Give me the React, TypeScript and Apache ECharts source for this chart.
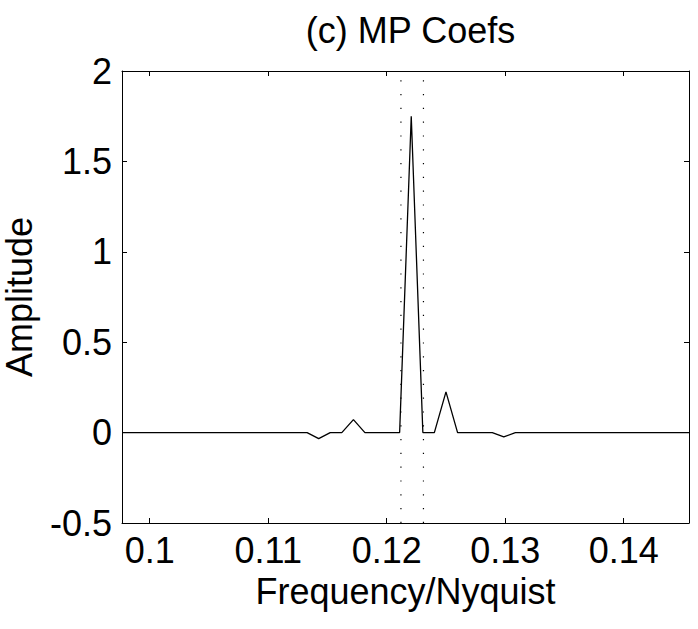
import React, { useEffect, useRef } from "react";
import * as echarts from "echarts";

const title = "(c) MP Coefs";
const xName = "Frequency/Nyquist";
const yName = "Amplitude";

// vertices of the coefficient trace (frequency, amplitude)
const freqs = [
  0.09766, 0.11328, 0.11426, 0.11523, 0.11621, 0.11719, 0.11816, 0.12109,
  0.12207, 0.12305, 0.12402, 0.125, 0.12598, 0.12891, 0.12988, 0.13086, 0.14551,
];
const amps = [
  0, 0, -0.033, 0, 0, 0.072, 0, 0, 1.75, 0, 0, 0.225, 0, 0, -0.024, 0, 0,
];
// dotted marker lines
const markerFreqs = [0.1212, 0.1231];
const xMin = 0.09766;
const xMax = 0.14551;
const yMin = -0.5;
const yMax = 2;

const FONT = "'Liberation Sans', Arial, Helvetica, sans-serif";
const FS = 36;

export default function App() {
  const ref = useRef<HTMLDivElement>(null);
  useEffect(() => {
    if (!ref.current) return;
    const chart = echarts.init(ref.current, undefined, { renderer: "svg" });
    const axisLine = { show: true, onZero: false, lineStyle: { color: "#000", width: 1 } };
    const fmtX = (v: number) => {
      const r = Math.round(v * 100) / 100;
      if (Math.abs(r - v) > 1e-6) return "";
      return String(r);
    };
    const lineData = freqs.map((f, i) => [f, amps[i]]);
    const markerSeries = markerFreqs.map((f) => ({
      type: "line",
      data: [
        [f, yMin],
        [f, yMax],
      ],
      symbol: "none",
      silent: true,
      lineStyle: { color: "#000", width: 1.2, type: [1.2, 12.6] },
      z: 1,
    }));
    chart.setOption({
      animation: false,
      title: {
        text: title,
        left: 405.5,
        top: 7,
        textAlign: "center",
        textStyle: { fontFamily: FONT, fontSize: FS, fontWeight: "normal", color: "#000" },
      },
      grid: {
        left: 122,
        top: 71,
        right: 9,
        bottom: 106,
        containLabel: false,
        outerBoundsMode: "none",
      },
      xAxis: [
        {
          type: "value",
          min: xMin,
          max: xMax,
          splitNumber: 5,
          name: xName,
          nameLocation: "middle",
          nameGap: 50,
          nameTextStyle: { fontFamily: FONT, fontSize: FS, color: "#000" },
          axisLine,
          axisTick: { show: true, inside: true, length: 5, lineStyle: { color: "#000" } },
          axisLabel: {
            formatter: fmtX,
            showMinLabel: false,
            showMaxLabel: false,
            margin: 9,
            fontFamily: FONT,
            fontSize: FS,
            color: "#000",
          },
          splitLine: { show: false },
        },
        {
          type: "value",
          position: "top",
          min: xMin,
          max: xMax,
          splitNumber: 5,
          axisLine,
          axisTick: { show: true, inside: true, length: 5, lineStyle: { color: "#000" } },
          axisLabel: { show: false },
          splitLine: { show: false },
        },
      ],
      yAxis: [
        {
          type: "value",
          min: yMin,
          max: yMax,
          interval: 0.5,
          name: yName,
          nameLocation: "middle",
          nameGap: 85,
          nameRotate: 90,
          nameTextStyle: { fontFamily: FONT, fontSize: FS, color: "#000" },
          axisLine,
          axisTick: { show: true, inside: true, length: 5, lineStyle: { color: "#000" } },
          axisLabel: { margin: 10, fontFamily: FONT, fontSize: FS, color: "#000" },
          splitLine: { show: false },
        },
        {
          type: "value",
          position: "right",
          min: yMin,
          max: yMax,
          interval: 0.5,
          axisLine,
          axisTick: { show: true, inside: true, length: 5, lineStyle: { color: "#000" } },
          axisLabel: { show: false },
          splitLine: { show: false },
        },
      ],
      series: [
        {
          type: "line",
          data: lineData,
          symbol: "none",
          lineStyle: { color: "#000", width: 1.3 },
          z: 2,
        },
        ...markerSeries,
      ],
    });
    return () => chart.dispose();
  }, []);
  return (
    <div
      ref={ref}
      style={{ position: "fixed", left: 0, top: 0, width: 698, height: 629, background: "#fff" }}
    />
  );
}
